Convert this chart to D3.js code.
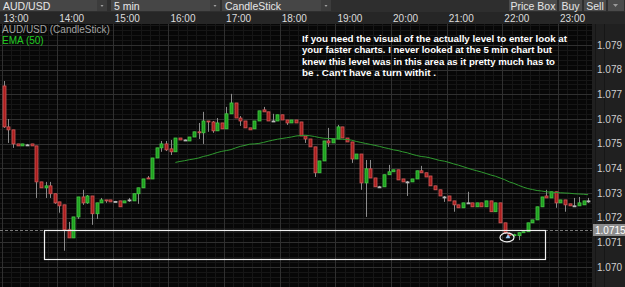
<!DOCTYPE html>
<html>
<head>
<meta charset="utf-8">
<script src="https://cdn.jsdelivr.net/npm/d3@7"></script>
<style>
  body { margin: 0; background: #000; }
  svg { display: block; font-family: "Liberation Sans", Arial, sans-serif; }
</style>
</head>
<body>
<svg id="chart" width="625" height="287"></svg>
<script>
// ---- data ----
const sessionStart = new Date(2014, 0, 6, 13, 0);
const sessionEnd = new Date(2014, 0, 6, 23, 0);
const barMinutes = 5;

const priceTicks = [1.070, 1.071, 1.072, 1.073, 1.074, 1.075, 1.076, 1.077, 1.078, 1.079];

// one row per 5 min bar: [open, high, low, close]
const ohlc = [
  [1.07734, 1.07754, 1.07564, 1.07568], [1.07568, 1.07600, 1.07503, 1.07556], [1.07556, 1.07556, 1.07483, 1.07499],
  [1.07499, 1.07499, 1.07491, 1.07491], [1.07491, 1.07499, 1.07491, 1.07499], [1.07495, 1.07499, 1.07491, 1.07495],
  [1.07499, 1.07499, 1.07491, 1.07491], [1.07491, 1.07491, 1.07280, 1.07345], [1.07345, 1.07345, 1.07321, 1.07321],
  [1.07321, 1.07345, 1.07280, 1.07329], [1.07329, 1.07345, 1.07280, 1.07297], [1.07297, 1.07297, 1.07256, 1.07260],
  [1.07264, 1.07264, 1.07220, 1.07248], [1.07252, 1.07252, 1.07066, 1.07151], [1.07151, 1.07183, 1.07118, 1.07118],
  [1.07118, 1.07203, 1.07118, 1.07203], [1.07203, 1.07284, 1.07195, 1.07284], [1.07284, 1.07313, 1.07252, 1.07260],
  [1.07260, 1.07292, 1.07256, 1.07288], [1.07288, 1.07288, 1.07171, 1.07216], [1.07216, 1.07260, 1.07195, 1.07260],
  [1.07260, 1.07280, 1.07260, 1.07272], [1.07272, 1.07272, 1.07260, 1.07268], [1.07272, 1.07272, 1.07264, 1.07264],
  [1.07266, 1.07268, 1.07264, 1.07266], [1.07268, 1.07268, 1.07244, 1.07244], [1.07260, 1.07268, 1.07260, 1.07268],
  [1.07272, 1.07280, 1.07264, 1.07272], [1.07268, 1.07297, 1.07268, 1.07297], [1.07297, 1.07321, 1.07256, 1.07321],
  [1.07321, 1.07357, 1.07321, 1.07357], [1.07361, 1.07369, 1.07357, 1.07359], [1.07357, 1.07442, 1.07357, 1.07442],
  [1.07442, 1.07483, 1.07442, 1.07483], [1.07483, 1.07511, 1.07467, 1.07499], [1.07499, 1.07511, 1.07470, 1.07475],
  [1.07479, 1.07515, 1.07454, 1.07467], [1.07467, 1.07523, 1.07467, 1.07523], [1.07523, 1.07523, 1.07515, 1.07515],
  [1.07515, 1.07517, 1.07513, 1.07515], [1.07511, 1.07527, 1.07511, 1.07527], [1.07527, 1.07548, 1.07527, 1.07548],
  [1.07548, 1.07584, 1.07519, 1.07544], [1.07544, 1.07629, 1.07499, 1.07592], [1.07592, 1.07592, 1.07548, 1.07588],
  [1.07588, 1.07592, 1.07544, 1.07552], [1.07552, 1.07604, 1.07552, 1.07584], [1.07584, 1.07584, 1.07560, 1.07560],
  [1.07560, 1.07649, 1.07560, 1.07621], [1.07621, 1.07702, 1.07621, 1.07665], [1.07665, 1.07665, 1.07604, 1.07604],
  [1.07604, 1.07612, 1.07572, 1.07592], [1.07592, 1.07592, 1.07564, 1.07564], [1.07564, 1.07564, 1.07556, 1.07556],
  [1.07560, 1.07592, 1.07560, 1.07592], [1.07592, 1.07633, 1.07592, 1.07633], [1.07637, 1.07649, 1.07629, 1.07629],
  [1.07629, 1.07629, 1.07592, 1.07592], [1.07592, 1.07621, 1.07592, 1.07592], [1.07592, 1.07617, 1.07592, 1.07617],
  [1.07617, 1.07617, 1.07596, 1.07596], [1.07596, 1.07596, 1.07576, 1.07584], [1.07584, 1.07596, 1.07584, 1.07596],
  [1.07596, 1.07596, 1.07584, 1.07584], [1.07588, 1.07588, 1.07531, 1.07531], [1.07531, 1.07531, 1.07503, 1.07519],
  [1.07519, 1.07519, 1.07487, 1.07487], [1.07487, 1.07487, 1.07365, 1.07382], [1.07382, 1.07430, 1.07382, 1.07430],
  [1.07430, 1.07511, 1.07430, 1.07511], [1.07511, 1.07564, 1.07487, 1.07503], [1.07503, 1.07519, 1.07503, 1.07519],
  [1.07519, 1.07576, 1.07519, 1.07568], [1.07568, 1.07568, 1.07523, 1.07523], [1.07523, 1.07523, 1.07507, 1.07507],
  [1.07507, 1.07507, 1.07422, 1.07438], [1.07438, 1.07458, 1.07438, 1.07458], [1.07458, 1.07458, 1.07313, 1.07341],
  [1.07341, 1.07434, 1.07203, 1.07398], [1.07398, 1.07434, 1.07361, 1.07361], [1.07361, 1.07361, 1.07325, 1.07325],
  [1.07325, 1.07329, 1.07321, 1.07325], [1.07325, 1.07374, 1.07325, 1.07374], [1.07374, 1.07414, 1.07374, 1.07386],
  [1.07386, 1.07394, 1.07386, 1.07394], [1.07394, 1.07394, 1.07353, 1.07353], [1.07357, 1.07357, 1.07345, 1.07345],
  [1.07345, 1.07349, 1.07288, 1.07345], [1.07345, 1.07357, 1.07345, 1.07357], [1.07357, 1.07390, 1.07357, 1.07390],
  [1.07390, 1.07410, 1.07382, 1.07382], [1.07382, 1.07382, 1.07365, 1.07365], [1.07369, 1.07369, 1.07329, 1.07329],
  [1.07329, 1.07329, 1.07313, 1.07313], [1.07313, 1.07313, 1.07288, 1.07288], [1.07284, 1.07288, 1.07264, 1.07284],
  [1.07288, 1.07288, 1.07268, 1.07268], [1.07268, 1.07268, 1.07224, 1.07252], [1.07252, 1.07252, 1.07240, 1.07240],
  [1.07240, 1.07260, 1.07240, 1.07260], [1.07260, 1.07305, 1.07256, 1.07260], [1.07260, 1.07260, 1.07244, 1.07244],
  [1.07244, 1.07260, 1.07244, 1.07260], [1.07260, 1.07260, 1.07244, 1.07244], [1.07244, 1.07268, 1.07244, 1.07268],
  [1.07268, 1.07268, 1.07224, 1.07224], [1.07224, 1.07260, 1.07224, 1.07260], [1.07260, 1.07260, 1.07179, 1.07179],
  [1.07179, 1.07179, 1.07135, 1.07139], [1.07135, 1.07139, 1.07123, 1.07127], [1.07127, 1.07135, 1.07123, 1.07131],
  [1.07127, 1.07139, 1.07109, 1.07139], [1.07139, 1.07143, 1.07139, 1.07143], [1.07143, 1.07179, 1.07143, 1.07179],
  [1.07179, 1.07191, 1.07179, 1.07191], [1.07191, 1.07244, 1.07191, 1.07244], [1.07244, 1.07284, 1.07244, 1.07284],
  [1.07288, 1.07313, 1.07280, 1.07280], [1.07280, 1.07305, 1.07280, 1.07305], [1.07305, 1.07305, 1.07240, 1.07260],
  [1.07260, 1.07272, 1.07260, 1.07272], [1.07272, 1.07272, 1.07224, 1.07252], [1.07256, 1.07256, 1.07248, 1.07248],
  [1.07248, 1.07280, 1.07248, 1.07248], [1.07248, 1.07284, 1.07248, 1.07260], [1.07252, 1.07268, 1.07252, 1.07268],
  [1.07268, 1.07280, 1.07260, 1.07268]
];

// EMA(50) as drawn, starting at bar 38 (index 37)
const emaFirstBar = 37;
const emaValues = [
  1.07424, 1.07428, 1.07431, 1.07435, 1.07438, 1.07442, 1.07448, 1.07452, 1.07458, 1.07464,
  1.07469, 1.07472, 1.07476, 1.07483, 1.07489, 1.07493, 1.07498, 1.07499, 1.07501, 1.07505,
  1.07510, 1.07514, 1.07518, 1.07521, 1.07524, 1.07527, 1.07531, 1.07533, 1.07534, 1.07532,
  1.07529, 1.07525, 1.07522, 1.07521, 1.07521, 1.07519, 1.07518, 1.07517, 1.07514, 1.07509,
  1.07505, 1.07501, 1.07497, 1.07493, 1.07489, 1.07484, 1.07480, 1.07475, 1.07472, 1.07467,
  1.07463, 1.07457, 1.07452, 1.07448, 1.07446, 1.07442, 1.07437, 1.07432, 1.07429, 1.07424,
  1.07418, 1.07413, 1.07407, 1.07401, 1.07395, 1.07390, 1.07385, 1.07379, 1.07373, 1.07368,
  1.07361, 1.07354, 1.07345, 1.07339, 1.07331, 1.07324, 1.07318, 1.07314, 1.07310, 1.07308,
  1.07305, 1.07303, 1.07302, 1.07301, 1.07300, 1.07299, 1.07297, 1.07296, 1.07295, 1.07293
];

const markerPrice = 1.0715;
const zone = { from: new Date(2014, 0, 6, 13, 46), to: new Date(2014, 0, 6, 22, 46), top: 1.0715, bottom: 1.07031 };
const circled = { time: new Date(2014, 0, 6, 22, 5), price: 1.07120 };

const noteLines = [
  'If you need the visual of the actually level to enter look at',
  'your faster charts. I never looked at the 5 min chart but',
  'knew this level was in this area as it pretty much has to',
  "be . Can't have a turn withit ."
];

// ---- layout ----
const width = 625, height = 287;
const plotLeft = 0, plotRight = 592, plotTop = 24;

const svg = d3.select('#chart');

const x = d3.scaleTime().domain([sessionStart, sessionEnd]).range([1.5, 558]);
const y = d3.scaleLinear().domain([1.070, 1.079]).range([267, 45]);

const barTime = i => d3.timeMinute.offset(sessionStart, i * barMinutes);
const barX = i => x(d3.timeSecond.offset(barTime(i), barMinutes * 30));

// backgrounds
svg.append('rect').attr('width', width).attr('height', height).attr('fill', '#2b2b2b');
svg.append('rect').attr('x', plotLeft).attr('y', plotTop).attr('width', plotRight - plotLeft).attr('height', height - plotTop).attr('fill', '#070707');
svg.append('rect').attr('x', plotRight).attr('y', plotTop).attr('width', width - plotRight).attr('height', height - plotTop).attr('fill', '#202020');
svg.append('rect').attr('x', 0).attr('y', 12).attr('width', width).attr('height', 12).attr('fill', '#262626');

// grid
const grid = svg.append('g');
const fineTimes = d3.timeMinute.every(10).range(d3.timeHour.offset(sessionStart, -1), d3.timeHour.offset(sessionEnd, 1));
grid.selectAll('line.vminor').data(fineTimes).join('line')
  .attr('x1', d => Math.round(x(d)) + 0.5).attr('x2', d => Math.round(x(d)) + 0.5)
  .attr('y1', plotTop).attr('y2', height)
  .attr('stroke', '#161616');
const finePrices = d3.range(10690, 10800, 2).map(v => v / 10000);
grid.selectAll('line.hminor').data(finePrices).join('line')
  .attr('x1', plotLeft).attr('x2', plotRight)
  .attr('y1', d => Math.round(y(d)) + 0.5).attr('y2', d => Math.round(y(d)) + 0.5)
  .attr('stroke', '#161616');
const hours = d3.timeHour.every(1).range(sessionStart, d3.timeHour.offset(sessionEnd, 1));
grid.selectAll('line.vmajor').data(hours).join('line')
  .attr('x1', d => Math.round(x(d)) + 0.5).attr('x2', d => Math.round(x(d)) + 0.5)
  .attr('y1', plotTop).attr('y2', height)
  .attr('stroke', '#303030');
grid.selectAll('line.hmajor').data(priceTicks).join('line')
  .attr('x1', plotLeft).attr('x2', plotRight)
  .attr('y1', d => Math.round(y(d)) + 0.5).attr('y2', d => Math.round(y(d)) + 0.5)
  .attr('stroke', '#303030');

// time axis (top strip)
const timeAxis = svg.append('g').attr('transform', 'translate(0,22)')
  .call(d3.axisBottom(x).tickValues(hours).tickFormat(d3.timeFormat('%H:%M')).tickSize(0));
timeAxis.select('.domain').remove();
timeAxis.selectAll('text').attr('dy', 0).attr('y', 0).attr('dx', 1.5)
  .attr('text-anchor', 'start').attr('fill', '#dcdcdc')
  .style('font-size', '10px').style('font-family', '"Liberation Sans", Arial, sans-serif');

// price axis (right)
const priceAxis = svg.append('g').attr('transform', `translate(${plotRight},0)`)
  .call(d3.axisRight(y).tickValues(priceTicks).tickFormat(d3.format('.3f')).tickSize(0));
priceAxis.select('.domain').remove();
priceAxis.selectAll('text').attr('x', 5).attr('fill', '#cfcfcf')
  .style('font-size', '10px').style('font-family', '"Liberation Sans", Arial, sans-serif');

// horizontal price line at the marked level
svg.append('line')
  .attr('x1', plotLeft).attr('x2', plotRight)
  .attr('y1', Math.round(y(markerPrice)) + 0.5).attr('y2', Math.round(y(markerPrice)) + 0.5)
  .attr('stroke', '#7a7a7a').attr('stroke-dasharray', '3,2');

const markTag = svg.append('g').attr('transform', `translate(${plotRight},${y(markerPrice)})`);
markTag.append('rect').attr('x', 1).attr('y', -6).attr('width', 33).attr('height', 12).attr('fill', '#8d8d8d');
markTag.append('text').attr('x', 3).attr('y', 4).attr('fill', '#fff').style('font-size', '10px').text(d3.format('.4f')(markerPrice));

// candles
const candles = svg.append('g');
const bars = candles.selectAll('g').data(ohlc).join('g');
bars.append('line')
  .attr('x1', (d, i) => Math.round(barX(i)) + 0.5).attr('x2', (d, i) => Math.round(barX(i)) + 0.5)
  .attr('y1', d => y(d[1])).attr('y2', d => y(d[2]))
  .attr('stroke', '#8c8c8c');
bars.append('rect')
  .attr('x', (d, i) => Math.round(barX(i)) - 1)
  .attr('y', d => y(Math.max(d[0], d[3])))
  .attr('width', 3)
  .attr('height', d => Math.max(1, Math.abs(y(d[0]) - y(d[3]))))
  .attr('fill', d => d[3] > d[0] ? '#1f9e1f' : d[3] < d[0] ? '#a81d1d' : '#bbbbbb')
  .attr('stroke', d => d[3] > d[0] ? '#45cc45' : d[3] < d[0] ? '#d25a5a' : '#bbbbbb')
  .attr('stroke-width', 0.8);

// EMA line
const emaLine = d3.line()
  .x((d, i) => barX(emaFirstBar + i))
  .y(d => y(d));
svg.append('path').datum(emaValues)
  .attr('d', emaLine)
  .attr('fill', 'none').attr('stroke', '#2f9a2f').attr('stroke-width', 1);

// drawn zone and circled bar
svg.append('rect')
  .attr('x', Math.round(x(zone.from)) + 0.5).attr('y', Math.round(y(zone.top)) + 0.5)
  .attr('width', Math.round(x(zone.to) - x(zone.from)))
  .attr('height', Math.round(y(zone.bottom) - y(zone.top)))
  .attr('fill', 'none').attr('stroke', '#f2f2f2').attr('stroke-width', 1.2);

svg.append('ellipse')
  .attr('cx', x(circled.time)).attr('cy', y(circled.price))
  .attr('rx', 7).attr('ry', 4.5)
  .attr('fill', 'none').attr('stroke', '#f2f2f2').attr('stroke-width', 1.2);
svg.append('path')
  .attr('d', d3.symbol(d3.symbolTriangle, 10)())
  .attr('transform', `translate(${x(circled.time) + 1},${y(circled.price) - 0.5})`)
  .attr('fill', '#9fd0ff');

// legend
svg.append('text').attr('x', 2).attr('y', 33).attr('fill', '#a3a3a3').style('font-size', '10px').text('AUD/USD (CandleStick)');
svg.append('text').attr('x', 2).attr('y', 44).attr('fill', '#22cc22').style('font-size', '10px').text('EMA (50)');

// note
const noteWidths = [265, 250, 253, 134];
svg.append('g').selectAll('text').data(noteLines).join('text')
  .attr('x', 302).attr('y', (d, i) => 41.5 + i * 11.5)
  .attr('fill', '#ffffff').style('font-size', '9.8px').style('font-weight', 'bold')
  .attr('textLength', (d, i) => noteWidths[i]).attr('lengthAdjust', 'spacingAndGlyphs')
  .text(d => d);

// toolbar
const toolbar = svg.append('g');
toolbar.append('rect').attr('width', width).attr('height', 12).attr('fill', '#2e2e2e');
const combos = [
  { label: 'AUD/USD', x0: 0, x1: 107 },
  { label: '5 min', x0: 111, x1: 220 },
  { label: 'CandleStick', x0: 222, x1: 331 }
];
combos.forEach(c => {
  toolbar.append('rect').attr('x', c.x0).attr('y', 0).attr('width', c.x1 - c.x0 - 10).attr('height', 11).attr('fill', '#464646');
  toolbar.append('rect').attr('x', c.x1 - 10).attr('y', 0).attr('width', 10).attr('height', 11).attr('fill', '#3c3c3c');
  toolbar.append('path').attr('d', `M${c.x1 - 6.5},5 h3 l-1.5,2 z`).attr('fill', '#a0a0a0');
  toolbar.append('text').attr('x', c.x0 + 3).attr('y', 9.5).attr('fill', '#e6e6e6').style('font-size', '10.5px').text(c.label);
});
const buttons = [
  { label: 'Price Box', x0: 509, x1: 557 },
  { label: 'Buy', x0: 559, x1: 582 },
  { label: 'Sell', x0: 584, x1: 606 }
];
buttons.forEach(b => {
  toolbar.append('rect').attr('x', b.x0).attr('y', 0).attr('width', b.x1 - b.x0).attr('height', 11).attr('fill', '#4b4b4b');
  toolbar.append('text').attr('x', (b.x0 + b.x1) / 2).attr('y', 9.5).attr('text-anchor', 'middle')
    .attr('fill', '#e6e6e6').style('font-size', '10.5px').text(b.label);
});
toolbar.append('rect').attr('x', 608).attr('y', 0).attr('width', 16).attr('height', 11).attr('fill', '#4b4b4b');
toolbar.append('path').attr('d', 'M613,4 h5 l-2.5,3 z').attr('fill', '#9a9a9a');
</script>
</body>
</html>
